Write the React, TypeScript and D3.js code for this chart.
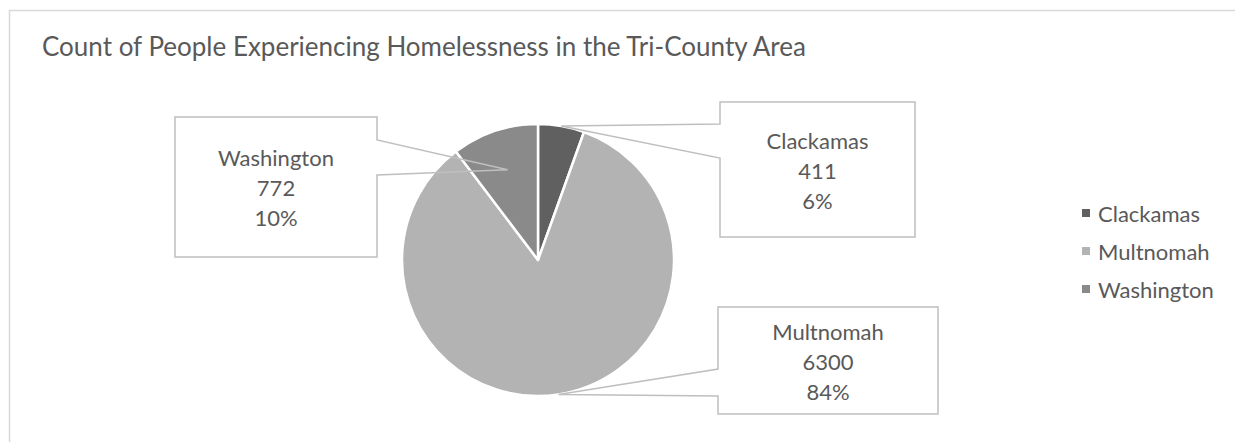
import React from "react";
import * as d3 from "d3";

const categories = ["Clackamas", "Multnomah", "Washington"];
const counts = [411, 6300, 772];
const percentLabels = ["6%", "84%", "10%"];
const colors = ["#606060", "#b3b3b3", "#8a8a8a"];
const title = "Count of People Experiencing Homelessness in the Tri-County Area";

const W = 1235;
const H = 442;
const FONT = "Lato, 'Open Sans', sans-serif";
const TEXT = "#595959";

// callout boxes layout
const callouts = [
  { x0: 720, x1: 915, y0: 102, y1: 237, side: "left", a0: 124, a1: 158, tipR: 1 },
  { x0: 718, x1: 938, y0: 307, y1: 414, side: "left", a0: 369, a1: 396, tipR: 1 },
  { x0: 175, x1: 377, y0: 117, y1: 257, side: "right", a0: 140, a1: 175, tipR: 0.7 },
];

export default function App() {
  const cx = 538;
  const cy = 260;
  const r = 136;
  const pie = d3.pie<number>().sort(null).value((d) => d);
  const arcs = pie(counts);
  const arcGen = d3.arc<d3.PieArcDatum<number>>().innerRadius(0).outerRadius(r);

  const legendY = d3.scalePoint<string>().domain(categories).range([222, 298]);

  return (
    <svg
      width={W}
      height={H}
      style={{ position: "absolute", left: 0, top: 0, background: "#fff" }}
      fontFamily={FONT}
    >
      <rect x={9.5} y={10.5} width={W + 20} height={H + 20} fill="#fff" stroke="#d9d9d9" strokeWidth={1.5} />
      <text x={42} y={56} fontSize={26} fill={TEXT}>
        {title}
      </text>
      <g transform={`translate(${cx},${cy})`}>
        {arcs.map((a, i) => (
          <path key={i} d={arcGen(a) || ""} fill={colors[i]} stroke="#fff" strokeWidth={2.5} strokeLinejoin="round" />
        ))}
      </g>
      {arcs.map((a, i) => {
        const c = callouts[i];
        const mid = (a.startAngle + a.endAngle) / 2;
        const tx = cx + Math.sin(mid) * r * c.tipR;
        const ty = cy - Math.cos(mid) * r * c.tipR;
        let d: string;
        if (c.side === "left") {
          d = `M${c.x0},${c.y0}L${c.x1},${c.y0}L${c.x1},${c.y1}L${c.x0},${c.y1}L${c.x0},${c.a1}L${tx},${ty}L${c.x0},${c.a0}Z`;
        } else {
          d = `M${c.x0},${c.y0}L${c.x1},${c.y0}L${c.x1},${c.a0}L${tx},${ty}L${c.x1},${c.a1}L${c.x1},${c.y1}L${c.x0},${c.y1}Z`;
        }
        const mx = (c.x0 + c.x1) / 2;
        const my = (c.y0 + c.y1) / 2 + 9;
        return (
          <g key={i}>
            <path d={d} fill="none" stroke="#bfbfbf" strokeWidth={1.5} />
            <text textAnchor="middle" fontSize={22} fill={TEXT}>
              <tspan x={mx} y={my - 30}>{categories[i]}</tspan>
              <tspan x={mx} y={my}>{counts[i]}</tspan>
              <tspan x={mx} y={my + 30}>{percentLabels[i]}</tspan>
            </text>
          </g>
        );
      })}
      {categories.map((c, i) => (
        <g key={c}>
          <rect x={1082} y={(legendY(c) || 0) - 13} width={8} height={8} fill={colors[i]} />
          <text x={1098} y={legendY(c)} fontSize={22} fill={TEXT}>
            {c}
          </text>
        </g>
      ))}
    </svg>
  );
}
